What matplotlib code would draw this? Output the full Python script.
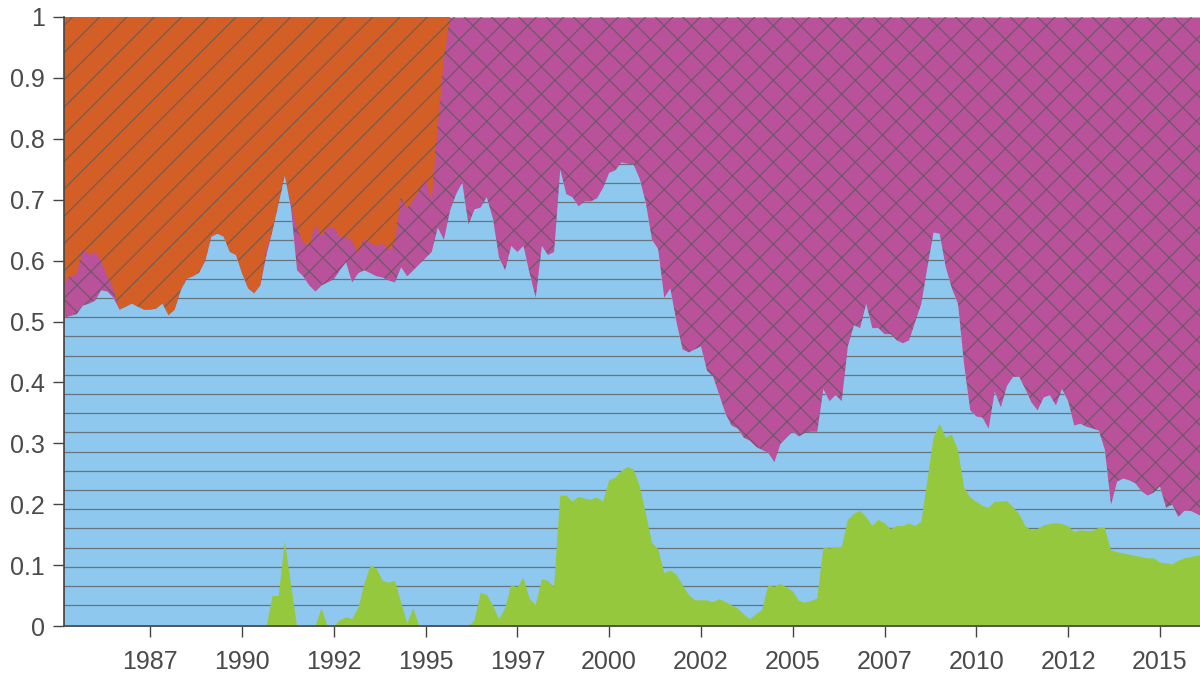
import numpy as np
import matplotlib.pyplot as plt
from matplotlib.collections import LineCollection

plt.rcParams['font.family'] = ['Liberation Sans', 'DejaVu Sans']

# two-monthly samples, Feb 1985 .. Feb 2016
years = 1985.153 + np.arange(187) / 6.0

# green share (bottom layer)
green_top = [
    0, 0, 0, 0, 0, 0, 0, 0, 0, 0,
    0, 0, 0, 0, 0, 0, 0, 0, 0, 0,
    0, 0, 0, 0, 0, 0, 0, 0, 0, 0,
    0, 0, 0, 0, 0.05, 0.05, 0.14, 0.07, 0, 0,
    0, 0, 0.03, 0, 0, 0.01, 0.015, 0.012, 0.03, 0.07,
    0.10, 0.095, 0.075, 0.072, 0.075, 0.04, 0.005, 0.03, 0, 0,
    0, 0, 0, 0, 0, 0, 0, 0.01, 0.055, 0.052,
    0.035, 0.012, 0.03, 0.068, 0.064, 0.08, 0.046, 0.035, 0.078, 0.075,
    0.065, 0.215, 0.215, 0.205, 0.213, 0.21, 0.208, 0.212, 0.205, 0.24,
    0.244, 0.255, 0.262, 0.258, 0.23, 0.185, 0.138, 0.127, 0.088, 0.092,
    0.085, 0.068, 0.052, 0.043, 0.043, 0.043, 0.04, 0.045, 0.04, 0.035,
    0.03, 0.02, 0.012, 0.02, 0.027, 0.068, 0.065, 0.07, 0.064, 0.058,
    0.042, 0.039, 0.042, 0.046, 0.13, 0.128, 0.13, 0.13, 0.175, 0.185,
    0.19, 0.18, 0.165, 0.175, 0.17, 0.16, 0.165, 0.165, 0.169, 0.165,
    0.172, 0.24, 0.31, 0.333, 0.31, 0.315, 0.29, 0.228, 0.212, 0.205,
    0.198, 0.195, 0.205, 0.205, 0.206, 0.196, 0.185, 0.165, 0.158, 0.16,
    0.166, 0.168, 0.17, 0.168, 0.165, 0.155, 0.158, 0.157, 0.157, 0.162,
    0.162, 0.125, 0.122, 0.12, 0.118, 0.116, 0.114, 0.112, 0.112, 0.105,
    0.104, 0.102, 0.108, 0.112, 0.114, 0.116, 0.118,
]

# green + blue (top of the blue layer)
blue_top = [
    0.507, 0.51, 0.513, 0.527, 0.53, 0.535, 0.552, 0.55, 0.54, 0.52,
    0.525, 0.53, 0.525, 0.52, 0.52, 0.522, 0.53, 0.511, 0.52, 0.552,
    0.571, 0.575, 0.581, 0.60, 0.64, 0.645, 0.64, 0.615, 0.61, 0.58,
    0.555, 0.547, 0.56, 0.61, 0.65, 0.695, 0.74, 0.688, 0.585, 0.575,
    0.56, 0.55, 0.56, 0.565, 0.57, 0.585, 0.598, 0.565, 0.58, 0.585,
    0.58, 0.575, 0.573, 0.568, 0.565, 0.59, 0.575, 0.585, 0.595, 0.605,
    0.615, 0.655, 0.635, 0.683, 0.71, 0.729, 0.66, 0.685, 0.688, 0.705,
    0.67, 0.606, 0.585, 0.625, 0.615, 0.625, 0.58, 0.54, 0.625, 0.61,
    0.615, 0.75, 0.71, 0.705, 0.69, 0.698, 0.698, 0.703, 0.72, 0.745,
    0.749, 0.762, 0.76, 0.758, 0.735, 0.695, 0.635, 0.62, 0.54, 0.555,
    0.50, 0.455, 0.45, 0.455, 0.46, 0.42, 0.41, 0.38, 0.35, 0.33,
    0.325, 0.31, 0.305, 0.295, 0.29, 0.285, 0.27, 0.30, 0.31, 0.32,
    0.312, 0.318, 0.32, 0.32, 0.39, 0.37, 0.38, 0.37, 0.46, 0.495,
    0.49, 0.53, 0.49, 0.49, 0.48, 0.48, 0.47, 0.465, 0.47, 0.50,
    0.53, 0.59, 0.647, 0.645, 0.59, 0.555, 0.53, 0.43, 0.355, 0.345,
    0.343, 0.325, 0.386, 0.36, 0.395, 0.41, 0.41, 0.39, 0.368, 0.355,
    0.376, 0.38, 0.363, 0.39, 0.37, 0.33, 0.333, 0.328, 0.325, 0.322,
    0.29, 0.20, 0.238, 0.243, 0.24, 0.235, 0.222, 0.215, 0.22, 0.23,
    0.195, 0.20, 0.18, 0.19, 0.19, 0.185, 0.18,
]

# bottom of the orange layer (orange only until mid 1995)
orange_floor = [
    0.565, 0.575, 0.579, 0.62, 0.61, 0.615, 0.60, 0.575, 0.555, 0.52,
    0.525, 0.53, 0.525, 0.52, 0.52, 0.522, 0.53, 0.511, 0.52, 0.552,
    0.571, 0.575, 0.581, 0.60, 0.64, 0.645, 0.64, 0.615, 0.61, 0.58,
    0.555, 0.547, 0.56, 0.62, 0.65, 0.695, 0.74, 0.695, 0.655, 0.63,
    0.625, 0.66, 0.64, 0.655, 0.655, 0.64, 0.64, 0.632, 0.614, 0.635,
    0.63, 0.625, 0.629, 0.617, 0.63, 0.705, 0.685, 0.70, 0.716, 0.735,
    0.70, 0.82, 0.93,
]

magenta_top = np.ones(len(years))
magenta_top[:len(orange_floor)] = orange_floor
# orange band runs until magenta reaches 1
n_or = len(orange_floor) + 1

W, H = 1200, 677
xmin, xmax = 1985.153, 2016.09
fig = plt.figure(figsize=(W / 100, H / 100), dpi=100)
ax = fig.add_axes([64 / W, 51 / H, 1136 / W, 609 / H])
ax.set_xlim(xmin, xmax)
ax.set_ylim(0, 1)

# pixel scale, so diagonal hatch lines come out at 45 degrees
px_year = 1136 / (xmax - xmin)
px_unit = 609.0
slope = px_year / px_unit
step = 27.3 / px_year

hatch_kw = dict(colors='#5a5a5a', linewidths=0.9, alpha=0.75)


def add_hatch(poly, segs, z):
    lc = LineCollection(segs, zorder=z, **hatch_kw)
    ax.add_collection(lc)
    lc.set_clip_path(poly.get_paths()[0], ax.transData)


def diag_segs(phase, sign):
    segs = []
    for n in range(-40, 80):
        c = phase + n * step
        # line through (c, 1)
        ya, yb = -0.1, 1.1
        xa = c + (ya - 1) / (sign * slope)
        xb = c + (yb - 1) / (sign * slope)
        segs.append([(xa, ya), (xb, yb)])
    return segs


up_phase = 1985.379
down_phase = 2002.746

# orange layer
p_or = ax.fill_between(years[:n_or], 0, 1, color='#d35f27', lw=0, zorder=1)
add_hatch(p_or, diag_segs(up_phase, 1), 1.1)

# magenta layer
p_mg = ax.fill_between(years, 0, magenta_top, color='#b9519b', lw=0, zorder=2)
add_hatch(p_mg, diag_segs(up_phase, 1) + diag_segs(down_phase, -1), 2.1)

# blue layer
p_bl = ax.fill_between(years, 0, blue_top, color='#8ec8ee', lw=0, zorder=3)
hsegs = [[(xmin - 1, y), (xmax + 1, y)] for y in np.arange(0.034, 1.0, 0.03153)]
add_hatch(p_bl, hsegs, 3.1)

# green layer, no hatch
ax.fill_between(years, 0, green_top, color='#95c83c', lw=0, zorder=4)

# axes styling
for side in ['top', 'right']:
    ax.spines[side].set_visible(False)
for side in ['left', 'bottom']:
    ax.spines[side].set_color('#444444')
    ax.spines[side].set_linewidth(1.2)
    ax.spines[side].set_zorder(5)

xticks = [1987.5, 1990, 1992.5, 1995, 1997.5, 2000, 2002.5, 2005, 2007.5, 2010, 2012.5, 2015]
ax.set_xticks(xticks)
ax.set_xticklabels([str(int(t)) for t in xticks])
yticks = [0, 0.1, 0.2, 0.3, 0.4, 0.5, 0.6, 0.7, 0.8, 0.9, 1]
ax.set_yticks(yticks)
ax.set_yticklabels(['%g' % t for t in yticks])
ax.tick_params(axis='both', direction='out', length=8, width=1, color='#444444',
               labelcolor='#4a4a4a', labelsize=18)
ax.tick_params(axis='x', pad=9)
ax.tick_params(axis='y', pad=6)

plt.savefig('out.png', dpi=100)
